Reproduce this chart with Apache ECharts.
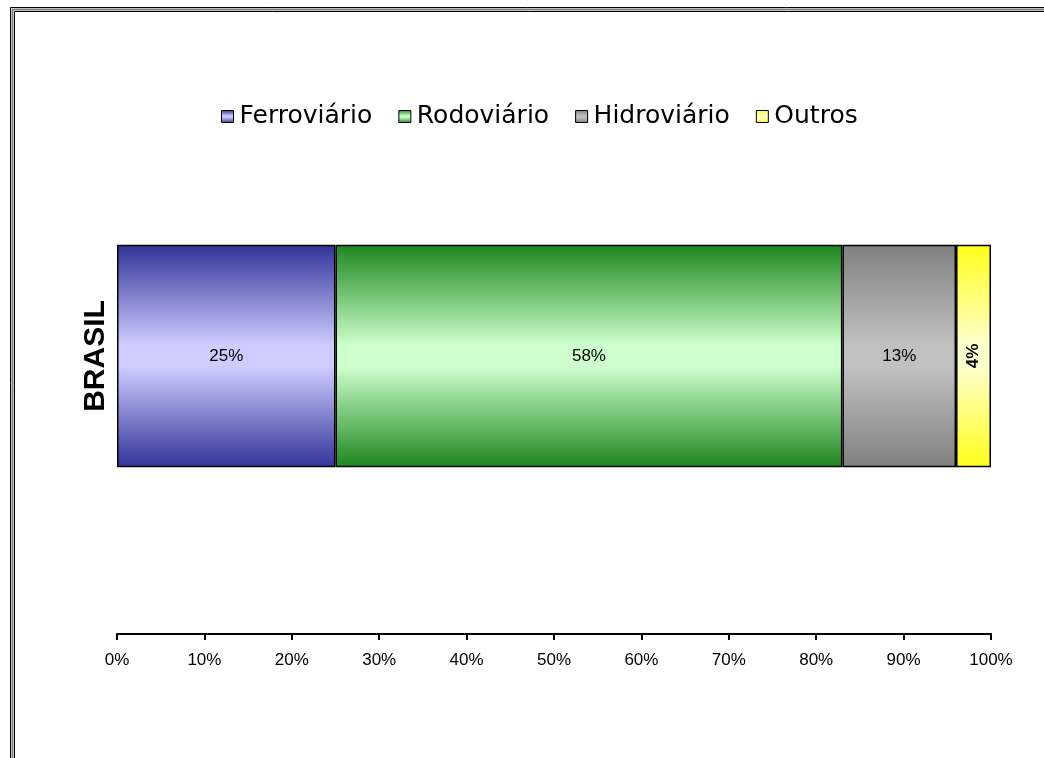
<!DOCTYPE html>
<html>
<head>
<meta charset="utf-8">
<script src="https://cdn.jsdelivr.net/npm/echarts@6/dist/echarts.min.js"></script>
<style>html,body{margin:0;padding:0;background:#fff;}#c{width:1044px;height:758px;}</style>
</head>
<body>
<div id="c"></div>
<script>
const categories = ['BRASIL'];
const seriesNames = ['Ferroviário', 'Rodoviário', 'Hidroviário', 'Outros'];
const ferroviario = [25];
const rodoviario = [58];
const hidroviario = [13];
const outros = [4];
const xTicks = { min: 0, max: 100, interval: 10 };

const values = [ferroviario, rodoviario, hidroviario, outros];
const darkColors = ['#333399', '#1e861e', '#808080', '#ffff1a'];
const lightColors = ['#ccccff', '#ccffcc', '#c0c0c0', '#ffffcc'];

function grad(d, l) {
  return new echarts.graphic.LinearGradient(0, 0, 0, 1, [
    { offset: 0, color: d },
    { offset: 0.45, color: l },
    { offset: 0.55, color: l },
    { offset: 1, color: d }
  ]);
}

const chart = echarts.init(document.getElementById('c'));
chart.setOption({
  backgroundColor: '#fff',
  animation: false,
  graphic: [
    { type: 'rect', silent: true, shape: { x: 10.5, y: 7.5, width: 1200, height: 1000 }, style: { fill: 'none', stroke: '#000', lineWidth: 1 } },
    { type: 'rect', silent: true, shape: { x: 12.5, y: 9.5, width: 1200, height: 1000 }, style: { fill: 'none', stroke: '#808080', lineWidth: 2 } },
    { type: 'rect', silent: true, shape: { x: 14.5, y: 11.5, width: 1200, height: 1000 }, style: { fill: 'none', stroke: '#000', lineWidth: 1 } }
  ],
  legend: {
    data: seriesNames,
    top: 99,
    left: 216,
    itemWidth: 12,
    itemHeight: 12,
    itemGap: 26,
    icon: 'rect',
    itemStyle: { borderColor: '#000', borderWidth: 1 },
    textStyle: { fontFamily: 'DejaVu Sans', fontSize: 25, color: '#000', padding: [0, 0, 0, 1] }
  },
  grid: { left: 117, right: 53, top: 78, bottom: 124, containLabel: false },
  xAxis: {
    type: 'value',
    min: xTicks.min, max: xTicks.max, interval: xTicks.interval,
    axisLine: { show: true, lineStyle: { color: '#000', width: 2 } },
    axisTick: { show: true, length: 6, lineStyle: { color: '#000', width: 2 } },
    splitLine: { show: false },
    axisLabel: { formatter: '{value}%', margin: 18, fontFamily: 'Liberation Sans', fontSize: 17, color: '#000' }
  },
  yAxis: {
    type: 'category',
    data: categories,
    axisLine: { show: false },
    axisTick: { show: false },
    axisLabel: { rotate: 90, margin: 6, fontFamily: 'Liberation Sans', fontWeight: 'bold', fontSize: 30, color: '#000' }
  },
  series: seriesNames.map((name, i) => ({
    name: name,
    type: 'bar',
    stack: 'total',
    barCategoryGap: '60%',
    data: values[i],
    itemStyle: { color: grad(darkColors[i], lightColors[i]), borderColor: '#000', borderWidth: 1.5 },
    label: {
      show: true,
      position: 'inside',
      formatter: '{c}%',
      fontFamily: 'Liberation Sans',
      fontSize: 17,
      color: '#000',
      rotate: name === 'Outros' ? 90 : 0,
      fontWeight: name === 'Outros' ? 'bold' : 'normal'
    }
  }))
});
</script>
</body>
</html>
